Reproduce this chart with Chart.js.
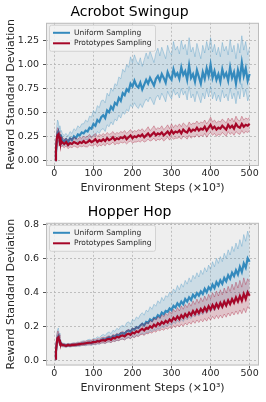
<!DOCTYPE html>
<html>
<head>
<meta charset="utf-8">
<script src="https://cdn.jsdelivr.net/npm/chart.js@4"></script>
<style>
html,body{margin:0;padding:0;background:#fff;}
canvas{display:block;}
</style>
</head>
<body>
<canvas id="c1" width="266" height="200"></canvas>
<canvas id="c2" width="266" height="202"></canvas>
<script>
// ---------- DATA ----------
const steps = [2,4,6,8,10,12,14,16,18,20,
  25,30,35,40,45,50,55,60,65,70,75,80,85,90,95,100,105,110,115,120,
  125,130,135,140,145,150,155,160,165,170,175,180,185,190,195,200,205,210,215,220,
  225,230,235,240,245,250,255,260,265,270,275,280,285,290,295,300,305,310,315,320,
  325,330,335,340,345,350,355,360,365,370,375,380,385,390,395,400,405,410,415,420,
  425,430,435,440,445,450,455,460,465,470,475,480,485,490,495,500];

const xTicks = [0,100,200,300,400,500];
const acroYTicks = [0,0.25,0.5,0.75,1.0,1.25];
const hopYTicks = [0,0.2,0.4,0.6,0.8];
const seriesNames = ["Uniform Sampling","Prototypes Sampling"];
const titles = ["Acrobot Swingup","Hopper Hop"];

// Acrobot Swingup - Uniform Sampling
const acroUniMean = [0.00,0.08,0.20,0.28,0.30,0.25,0.27,0.22,0.24,0.21,
  0.20,0.22,0.19,0.23,0.21,0.25,0.23,0.27,0.26,0.29,
  0.28,0.31,0.30,0.34,0.33,0.38,0.36,0.42,0.40,0.45,
  0.47,0.44,0.52,0.50,0.56,0.53,0.60,0.58,0.65,0.62,
  0.70,0.68,0.74,0.72,0.80,0.77,0.83,0.78,0.76,0.81,
  0.74,0.79,0.84,0.80,0.86,0.82,0.78,0.85,0.88,0.83,
  0.90,0.86,0.81,0.92,0.87,0.84,0.95,0.88,0.91,0.85,
  0.97,0.89,0.93,0.84,0.99,0.86,0.90,0.82,0.94,0.87,
  0.80,0.92,0.85,0.96,0.88,1.00,0.86,0.93,0.84,0.90,
  0.82,0.95,0.87,0.91,0.83,0.97,0.86,0.92,0.80,0.94,
  0.85,1.02,0.88,0.96,0.83,0.90];
const acroUniUpper = [0.02,0.15,0.35,0.42,0.40,0.33,0.36,0.30,0.31,0.28,
  0.26,0.28,0.25,0.30,0.28,0.33,0.31,0.36,0.34,0.38,
  0.38,0.42,0.40,0.46,0.45,0.52,0.49,0.57,0.55,0.62,
  0.63,0.60,0.70,0.67,0.75,0.72,0.80,0.78,0.87,0.85,
  0.95,0.92,1.00,0.97,1.08,1.02,1.10,1.04,1.00,1.07,
  0.98,1.05,1.12,1.06,1.14,1.08,1.02,1.12,1.17,1.09,
  1.18,1.12,1.06,1.20,1.13,1.10,1.24,1.15,1.19,1.11,
  1.25,1.16,1.21,1.10,1.28,1.13,1.18,1.08,1.22,1.14,
  1.06,1.20,1.12,1.24,1.15,1.28,1.13,1.21,1.10,1.18,
  1.08,1.23,1.14,1.19,1.10,1.26,1.13,1.20,1.06,1.22,
  1.12,1.30,1.15,1.24,1.10,1.18];
const acroUniLower = [0.00,0.03,0.10,0.16,0.20,0.18,0.19,0.15,0.17,0.15,
  0.15,0.17,0.14,0.17,0.16,0.19,0.17,0.20,0.19,0.21,
  0.20,0.22,0.21,0.25,0.23,0.27,0.25,0.30,0.28,0.32,
  0.33,0.30,0.37,0.35,0.40,0.37,0.43,0.41,0.47,0.44,
  0.50,0.48,0.53,0.51,0.58,0.55,0.60,0.56,0.54,0.59,
  0.55,0.60,0.64,0.61,0.66,0.62,0.58,0.65,0.68,0.63,
  0.70,0.66,0.61,0.72,0.67,0.64,0.74,0.68,0.71,0.65,
  0.75,0.68,0.72,0.63,0.77,0.65,0.69,0.61,0.72,0.66,
  0.60,0.70,0.64,0.74,0.66,0.77,0.64,0.71,0.62,0.68,
  0.61,0.73,0.65,0.69,0.62,0.75,0.64,0.70,0.59,0.72,
  0.64,0.80,0.66,0.74,0.62,0.68];

// Acrobot Swingup - Prototypes Sampling
const acroProMean = [0.00,0.10,0.22,0.26,0.27,0.24,0.20,0.22,0.18,0.19,
  0.17,0.19,0.16,0.18,0.17,0.19,0.18,0.17,0.19,0.18,
  0.20,0.18,0.19,0.21,0.19,0.20,0.22,0.19,0.21,0.20,
  0.22,0.20,0.23,0.21,0.22,0.24,0.21,0.23,0.22,0.24,
  0.23,0.25,0.22,0.24,0.26,0.23,0.25,0.24,0.26,0.25,
  0.27,0.24,0.26,0.28,0.25,0.27,0.29,0.26,0.28,0.27,
  0.29,0.26,0.28,0.30,0.27,0.31,0.28,0.30,0.29,0.31,
  0.28,0.32,0.30,0.29,0.33,0.30,0.32,0.31,0.34,0.31,
  0.33,0.32,0.35,0.31,0.34,0.37,0.33,0.35,0.32,0.34,
  0.33,0.36,0.34,0.32,0.37,0.34,0.36,0.33,0.38,0.35,
  0.34,0.38,0.35,0.37,0.36,0.38];
const acroProUpper = [0.01,0.15,0.30,0.34,0.33,0.30,0.26,0.27,0.23,0.24,
  0.22,0.23,0.21,0.23,0.22,0.24,0.23,0.22,0.24,0.23,
  0.25,0.24,0.25,0.27,0.24,0.26,0.28,0.25,0.27,0.26,
  0.28,0.26,0.29,0.27,0.28,0.30,0.27,0.29,0.28,0.30,
  0.29,0.31,0.28,0.30,0.32,0.29,0.31,0.30,0.32,0.31,
  0.33,0.30,0.32,0.35,0.31,0.33,0.36,0.32,0.34,0.33,
  0.36,0.32,0.34,0.37,0.33,0.38,0.34,0.37,0.35,0.38,
  0.35,0.39,0.37,0.35,0.40,0.37,0.39,0.38,0.41,0.38,
  0.40,0.39,0.42,0.38,0.41,0.45,0.40,0.42,0.39,0.41,
  0.40,0.43,0.41,0.39,0.44,0.41,0.44,0.40,0.46,0.42,
  0.41,0.46,0.42,0.44,0.43,0.45];
const acroProLower = [0.00,0.05,0.15,0.19,0.21,0.19,0.15,0.17,0.14,0.15,
  0.13,0.15,0.12,0.14,0.13,0.15,0.14,0.13,0.15,0.14,
  0.15,0.14,0.14,0.16,0.15,0.15,0.17,0.14,0.16,0.15,
  0.17,0.15,0.18,0.16,0.17,0.19,0.16,0.18,0.17,0.19,
  0.18,0.19,0.17,0.19,0.20,0.18,0.19,0.19,0.20,0.19,
  0.21,0.19,0.20,0.22,0.20,0.21,0.23,0.20,0.22,0.21,
  0.23,0.20,0.22,0.24,0.21,0.24,0.22,0.23,0.23,0.24,
  0.22,0.25,0.24,0.22,0.26,0.23,0.25,0.24,0.27,0.24,
  0.26,0.25,0.28,0.24,0.27,0.29,0.26,0.28,0.25,0.27,
  0.26,0.29,0.27,0.25,0.30,0.27,0.29,0.26,0.30,0.28,
  0.27,0.31,0.28,0.30,0.29,0.31];

// Hopper Hop - Uniform Sampling
const hopUniMean = [0.01,0.05,0.10,0.13,0.14,0.12,0.11,0.10,0.095,0.09,
  0.09,0.085,0.09,0.088,0.09,0.092,0.09,0.095,0.093,0.098,
  0.10,0.098,0.103,0.105,0.10,0.11,0.107,0.115,0.112,0.12,
  0.125,0.12,0.13,0.135,0.128,0.142,0.138,0.15,0.145,0.158,
  0.16,0.155,0.17,0.175,0.168,0.185,0.18,0.195,0.19,0.205,
  0.215,0.205,0.225,0.22,0.24,0.232,0.25,0.245,0.265,0.255,
  0.28,0.27,0.29,0.285,0.305,0.295,0.32,0.31,0.335,0.32,
  0.345,0.33,0.36,0.345,0.37,0.355,0.385,0.37,0.395,0.38,
  0.405,0.39,0.42,0.40,0.43,0.415,0.445,0.425,0.46,0.44,
  0.47,0.45,0.485,0.465,0.50,0.48,0.515,0.495,0.53,0.505,
  0.55,0.52,0.57,0.545,0.60,0.58];
const hopUniUpper = [0.02,0.08,0.15,0.18,0.19,0.16,0.14,0.12,0.11,0.10,
  0.10,0.095,0.10,0.098,0.10,0.103,0.10,0.108,0.105,0.112,
  0.115,0.112,0.12,0.123,0.117,0.13,0.127,0.138,0.133,0.145,
  0.152,0.145,0.16,0.167,0.156,0.176,0.17,0.188,0.18,0.20,
  0.205,0.196,0.22,0.226,0.212,0.24,0.232,0.255,0.245,0.268,
  0.28,0.265,0.295,0.285,0.315,0.30,0.33,0.318,0.35,0.335,
  0.37,0.35,0.38,0.372,0.40,0.385,0.42,0.403,0.44,0.415,
  0.45,0.43,0.47,0.448,0.485,0.46,0.50,0.48,0.515,0.49,
  0.53,0.505,0.545,0.52,0.56,0.535,0.58,0.55,0.60,0.57,
  0.61,0.58,0.63,0.60,0.65,0.62,0.67,0.64,0.69,0.655,
  0.71,0.67,0.74,0.70,0.76,0.72];
const hopUniLower = [0.00,0.03,0.07,0.10,0.11,0.10,0.09,0.085,0.082,0.08,
  0.08,0.076,0.08,0.078,0.08,0.082,0.08,0.084,0.082,0.086,
  0.088,0.085,0.09,0.09,0.087,0.094,0.09,0.096,0.094,0.10,
  0.103,0.098,0.106,0.108,0.104,0.114,0.11,0.118,0.115,0.124,
  0.125,0.12,0.13,0.133,0.128,0.14,0.135,0.145,0.142,0.152,
  0.158,0.15,0.165,0.16,0.175,0.168,0.18,0.175,0.19,0.182,
  0.20,0.19,0.205,0.20,0.215,0.205,0.225,0.215,0.235,0.222,
  0.24,0.228,0.25,0.238,0.255,0.245,0.265,0.255,0.272,0.26,
  0.28,0.268,0.29,0.275,0.295,0.285,0.305,0.29,0.315,0.30,
  0.32,0.305,0.33,0.315,0.34,0.325,0.35,0.335,0.36,0.34,
  0.375,0.35,0.39,0.37,0.41,0.39];

// Hopper Hop - Prototypes Sampling
const hopProMean = [0.01,0.05,0.10,0.13,0.135,0.12,0.105,0.10,0.092,0.09,
  0.088,0.085,0.09,0.087,0.09,0.09,0.092,0.093,0.095,0.097,
  0.098,0.10,0.102,0.103,0.104,0.108,0.106,0.112,0.11,0.116,
  0.118,0.115,0.123,0.126,0.12,0.132,0.128,0.138,0.134,0.143,
  0.146,0.14,0.152,0.156,0.15,0.163,0.158,0.17,0.165,0.178,
  0.185,0.175,0.19,0.186,0.20,0.192,0.21,0.20,0.218,0.208,
  0.225,0.215,0.232,0.222,0.24,0.228,0.25,0.238,0.258,0.242,
  0.265,0.25,0.272,0.258,0.28,0.265,0.29,0.272,0.296,0.278,
  0.302,0.285,0.31,0.29,0.318,0.298,0.325,0.305,0.332,0.31,
  0.338,0.315,0.345,0.322,0.352,0.33,0.36,0.338,0.37,0.345,
  0.378,0.35,0.39,0.36,0.40,0.38];
const hopProUpper = [0.02,0.07,0.14,0.17,0.17,0.15,0.13,0.115,0.105,0.10,
  0.097,0.094,0.098,0.096,0.099,0.10,0.101,0.103,0.105,0.107,
  0.11,0.112,0.115,0.116,0.118,0.122,0.12,0.127,0.125,0.132,
  0.135,0.132,0.14,0.144,0.138,0.152,0.147,0.158,0.154,0.165,
  0.17,0.162,0.176,0.181,0.174,0.19,0.184,0.198,0.192,0.208,
  0.218,0.205,0.224,0.218,0.236,0.226,0.248,0.236,0.258,0.245,
  0.268,0.255,0.276,0.264,0.287,0.272,0.30,0.284,0.31,0.29,
  0.32,0.30,0.328,0.31,0.338,0.318,0.35,0.328,0.36,0.335,
  0.368,0.345,0.378,0.352,0.388,0.362,0.398,0.372,0.408,0.378,
  0.415,0.385,0.425,0.395,0.435,0.405,0.448,0.415,0.46,0.425,
  0.47,0.43,0.485,0.445,0.48,0.46];
const hopProLower = [0.00,0.03,0.07,0.10,0.105,0.095,0.085,0.085,0.08,0.08,
  0.079,0.077,0.082,0.079,0.081,0.081,0.083,0.084,0.085,0.087,
  0.087,0.089,0.09,0.091,0.091,0.095,0.093,0.098,0.096,0.101,
  0.102,0.099,0.106,0.109,0.103,0.113,0.11,0.118,0.115,0.122,
  0.124,0.119,0.129,0.132,0.127,0.137,0.133,0.143,0.139,0.149,
  0.153,0.146,0.158,0.155,0.165,0.159,0.173,0.165,0.18,0.172,
  0.184,0.176,0.19,0.182,0.195,0.186,0.203,0.193,0.208,0.196,
  0.212,0.20,0.218,0.207,0.224,0.212,0.232,0.217,0.237,0.222,
  0.24,0.226,0.246,0.23,0.252,0.236,0.258,0.242,0.264,0.245,
  0.266,0.248,0.272,0.253,0.278,0.26,0.284,0.266,0.29,0.27,
  0.296,0.274,0.305,0.28,0.315,0.30];

// ---------- STYLE ----------
const BLUE = '#348ABD', RED = '#A60628';
const FONT = "'DejaVu Sans', 'Liberation Sans', sans-serif";

function pts(ys){ return steps.map((x,i)=>({x:x, y:ys[i]})); }

function seriesSets(name, mean, upper, lower, color, rgb, baseOrder){
  return [
    {label:name+' upper', data:pts(upper), borderColor:'rgba('+rgb+',0.35)', borderWidth:0.9,
     backgroundColor:'rgba('+rgb+',0.18)', fill:'+1', pointRadius:0, tension:0, order:baseOrder+1},
    {label:name+' lower', data:pts(lower), borderColor:'rgba('+rgb+',0.35)', borderWidth:0.9,
     fill:false, pointRadius:0, tension:0, order:baseOrder+1},
    {label:name, data:pts(mean), borderColor:color, borderWidth:2.2,
     fill:false, pointRadius:0, tension:0, order:baseOrder}
  ];
}

const bgPlugin = {
  id:'bgbox',
  beforeDraw(chart){
    const a = chart.chartArea, c = chart.ctx;
    c.save(); c.fillStyle = '#eeeeee';
    c.fillRect(a.left, a.top, a.right-a.left, a.bottom-a.top); c.restore();
  },
  afterDraw(chart){
    const a = chart.chartArea, c = chart.ctx;
    c.save();
    c.strokeStyle = '#bcbcbc'; c.lineWidth = 1;
    c.strokeRect(a.left+0.5, a.top+0.5, a.right-a.left-1, a.bottom-a.top-1);
    // legend box (inside plot, upper left)
    const lx = a.left+3, ly = a.top+2, lw = 106, lh = 26;
    c.fillStyle = 'rgba(242,242,242,0.85)';
    c.strokeStyle = '#cccccc'; c.lineWidth = 0.8;
    c.beginPath();
    if (c.roundRect) c.roundRect(lx+0.5, ly+0.5, lw, lh, 2); else c.rect(lx+0.5, ly+0.5, lw, lh);
    c.fill(); c.stroke();
    const cols = [BLUE, RED];
    c.font = "7.5px " + FONT; c.textBaseline = 'middle'; c.fillStyle = '#262626';
    seriesNames.forEach((n,i)=>{
      const yy = ly + 8 + i*10.5;
      c.strokeStyle = cols[i]; c.lineWidth = 2;
      c.beginPath(); c.moveTo(lx+4, yy); c.lineTo(lx+21, yy); c.stroke();
      c.fillText(n, lx+25, yy);
    });
    c.restore();
  }
};

function makeChart(id, title, sets, yMin, yMax, yTicks, dec, xAxisH, xTitlePad){
  const gridOpts = {color:'#b2b2b2', lineWidth:0.8, tickLength:3,
                    tickColor:'#555', tickBorderDash:[], tickWidth:1};
  new Chart(document.getElementById(id), {
    type:'line',
    data:{datasets:sets},
    plugins:[bgPlugin],
    options:{
      responsive:false, animation:false,
      layout:{padding:{left:0,right:7,top:0,bottom:0}},
      plugins:{
        legend:{display:false}, tooltip:{enabled:false},
        title:{display:true, text:title, color:'#000', font:{family:FONT, size:14, weight:'normal'},
               padding:{top:4,bottom:2}}
      },
      scales:{
        x:{type:'linear', min:-21.5, max:524,
           afterBuildTicks(s){ s.ticks = xTicks.map(v=>({value:v})); },
           afterFit(s){ s.height = xAxisH; },
           ticks:{color:'#262626', font:{family:FONT, size:9.5}, padding:-1, maxRotation:0,
                  callback:(v)=>String(v)},
           grid:gridOpts,
           border:{display:false, dash:[2,2]},
           title:{display:true, text:'Environment Steps (×10³)', color:'#262626',
                  font:{family:FONT, size:11}, padding:{top:0,bottom:xTitlePad}}
        },
        y:{type:'linear', min:yMin, max:yMax,
           afterBuildTicks(s){ s.ticks = yTicks.map(v=>({value:v})); },
           afterFit(s){ s.width = 46; },
           ticks:{color:'#262626', font:{family:FONT, size:9.5}, padding:4,
                  callback:(v)=>Number(v).toFixed(dec)},
           grid:gridOpts,
           border:{display:false, dash:[2,2]},
           title:{display:true, text:'Reward Standard Deviation', color:'#262626',
                  font:{family:FONT, size:11}, padding:{top:5,bottom:0}}
        }
      }
    }
  });
}

makeChart('c1', titles[0],
  seriesSets(seriesNames[0], acroUniMean, acroUniUpper, acroUniLower, BLUE, '52,138,189', 2)
  .concat(seriesSets(seriesNames[1], acroProMean, acroProUpper, acroProLower, RED, '166,6,40', 0)),
  -0.06, 1.435, acroYTicks, 2, 34, 5);
makeChart('c2', titles[1],
  seriesSets(seriesNames[0], hopUniMean, hopUniUpper, hopUniLower, BLUE, '52,138,189', 2)
  .concat(seriesSets(seriesNames[1], hopProMean, hopProUpper, hopProLower, RED, '166,6,40', 0)),
  -0.031, 0.809, hopYTicks, 1, 36.5, 7);
</script>
</body>
</html>
